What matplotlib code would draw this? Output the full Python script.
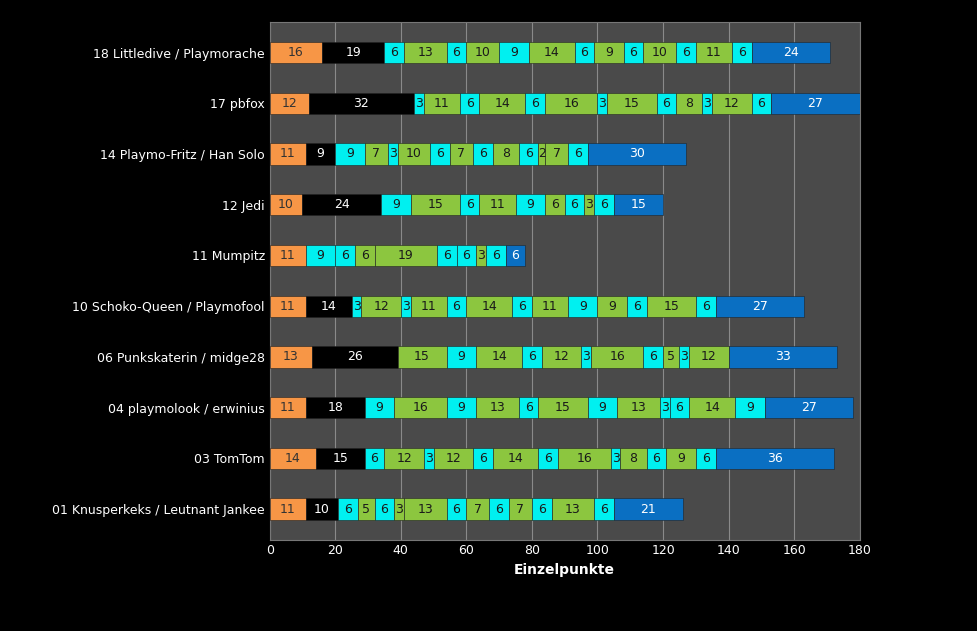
import matplotlib
matplotlib.use("Agg")
import matplotlib.pyplot as plt

# rows from bottom to top
names = [
    "01 Knusperkeks / Leutnant Jankee",
    "03 TomTom",
    "04 playmolook / erwinius",
    "06 Punkskaterin / midge28",
    "10 Schoko-Queen / Playmofool",
    "11 Mumpitz",
    "12 Jedi",
    "14 Playmo-Fritz / Han Solo",
    "17 pbfox",
    "18 Littledive / Playmorache",
]

# segment values per row, and colour codes (o orange, k black, c cyan, g green, b blue)
values = [
    [11, 10, 6, 5, 6, 3, 13, 6, 7, 6, 7, 6, 13, 6, 21],
    [14, 15, 6, 12, 3, 12, 6, 14, 6, 16, 3, 8, 6, 9, 6, 36],
    [11, 18, 9, 16, 9, 13, 6, 15, 9, 13, 3, 6, 14, 9, 27],
    [13, 26, 15, 9, 14, 6, 12, 3, 16, 6, 5, 3, 12, 33],
    [11, 14, 3, 12, 3, 11, 6, 14, 6, 11, 9, 9, 6, 15, 6, 27],
    [11, 9, 6, 6, 19, 6, 6, 3, 6, 6],
    [10, 24, 9, 15, 6, 11, 9, 6, 6, 3, 6, 15],
    [11, 9, 9, 7, 3, 10, 6, 7, 6, 8, 6, 2, 7, 6, 30],
    [12, 32, 3, 11, 6, 14, 6, 16, 3, 15, 6, 8, 3, 12, 6, 27],
    [16, 19, 6, 13, 6, 10, 9, 14, 6, 9, 6, 10, 6, 11, 6, 24],
]
codes = [
    "okcgcggcgcgcgcb",
    "okcgcgcgcgcgcgcb",
    "okcgcgcgcgccgcb",
    "okgcgcgcgcgcgb",
    "okcgcgcgcgcgcgcb",
    "occggccgcb",
    "okcgcgcgcgcb",
    "okcgcgcgcgcggcb",
    "okcgcgcgcgcgcgcb",
    "okcgcgcgcgcgcgcb",
]

fill = {"o": "#F79646", "k": "#000000", "c": "#00F0F0", "g": "#8CC63F", "b": "#0A6FC2"}
txt = {"o": "#333333", "k": "white", "c": "#1a1a1a", "g": "#1a1a1a", "b": "white"}

fig = plt.figure(figsize=(9.77, 6.31), dpi=100)
fig.patch.set_facecolor("black")
ax = fig.add_axes([0.276, 0.145, 0.604, 0.82])
ax.set_facecolor("#4a4a4a")

for i, (vals, cs) in enumerate(zip(values, codes)):
    left = 0
    for v, c in zip(vals, cs):
        ax.barh(i, v, left=left, height=0.42, color=fill[c],
                edgecolor="#222222", linewidth=0.4, zorder=3)
        ax.text(left + v / 2, i, str(v), ha="center", va="center",
                fontsize=9, color=txt[c], zorder=4)
        left += v

ax.set_xlim(0, 180)
ax.set_ylim(-0.6, len(names) - 0.4)
ax.set_xticks(range(0, 181, 20))
ax.set_yticks(range(len(names)))
ax.set_yticklabels(names)
ax.tick_params(colors="white", labelsize=9, length=0)
ax.grid(axis="x", color="#8a8a8a", linewidth=0.8, zorder=0)
for s in ax.spines.values():
    s.set_color("#777777")
ax.set_xlabel("Einzelpunkte", color="white", fontsize=10, fontweight="bold")

fig.savefig("out.png", dpi=100, facecolor="black")
